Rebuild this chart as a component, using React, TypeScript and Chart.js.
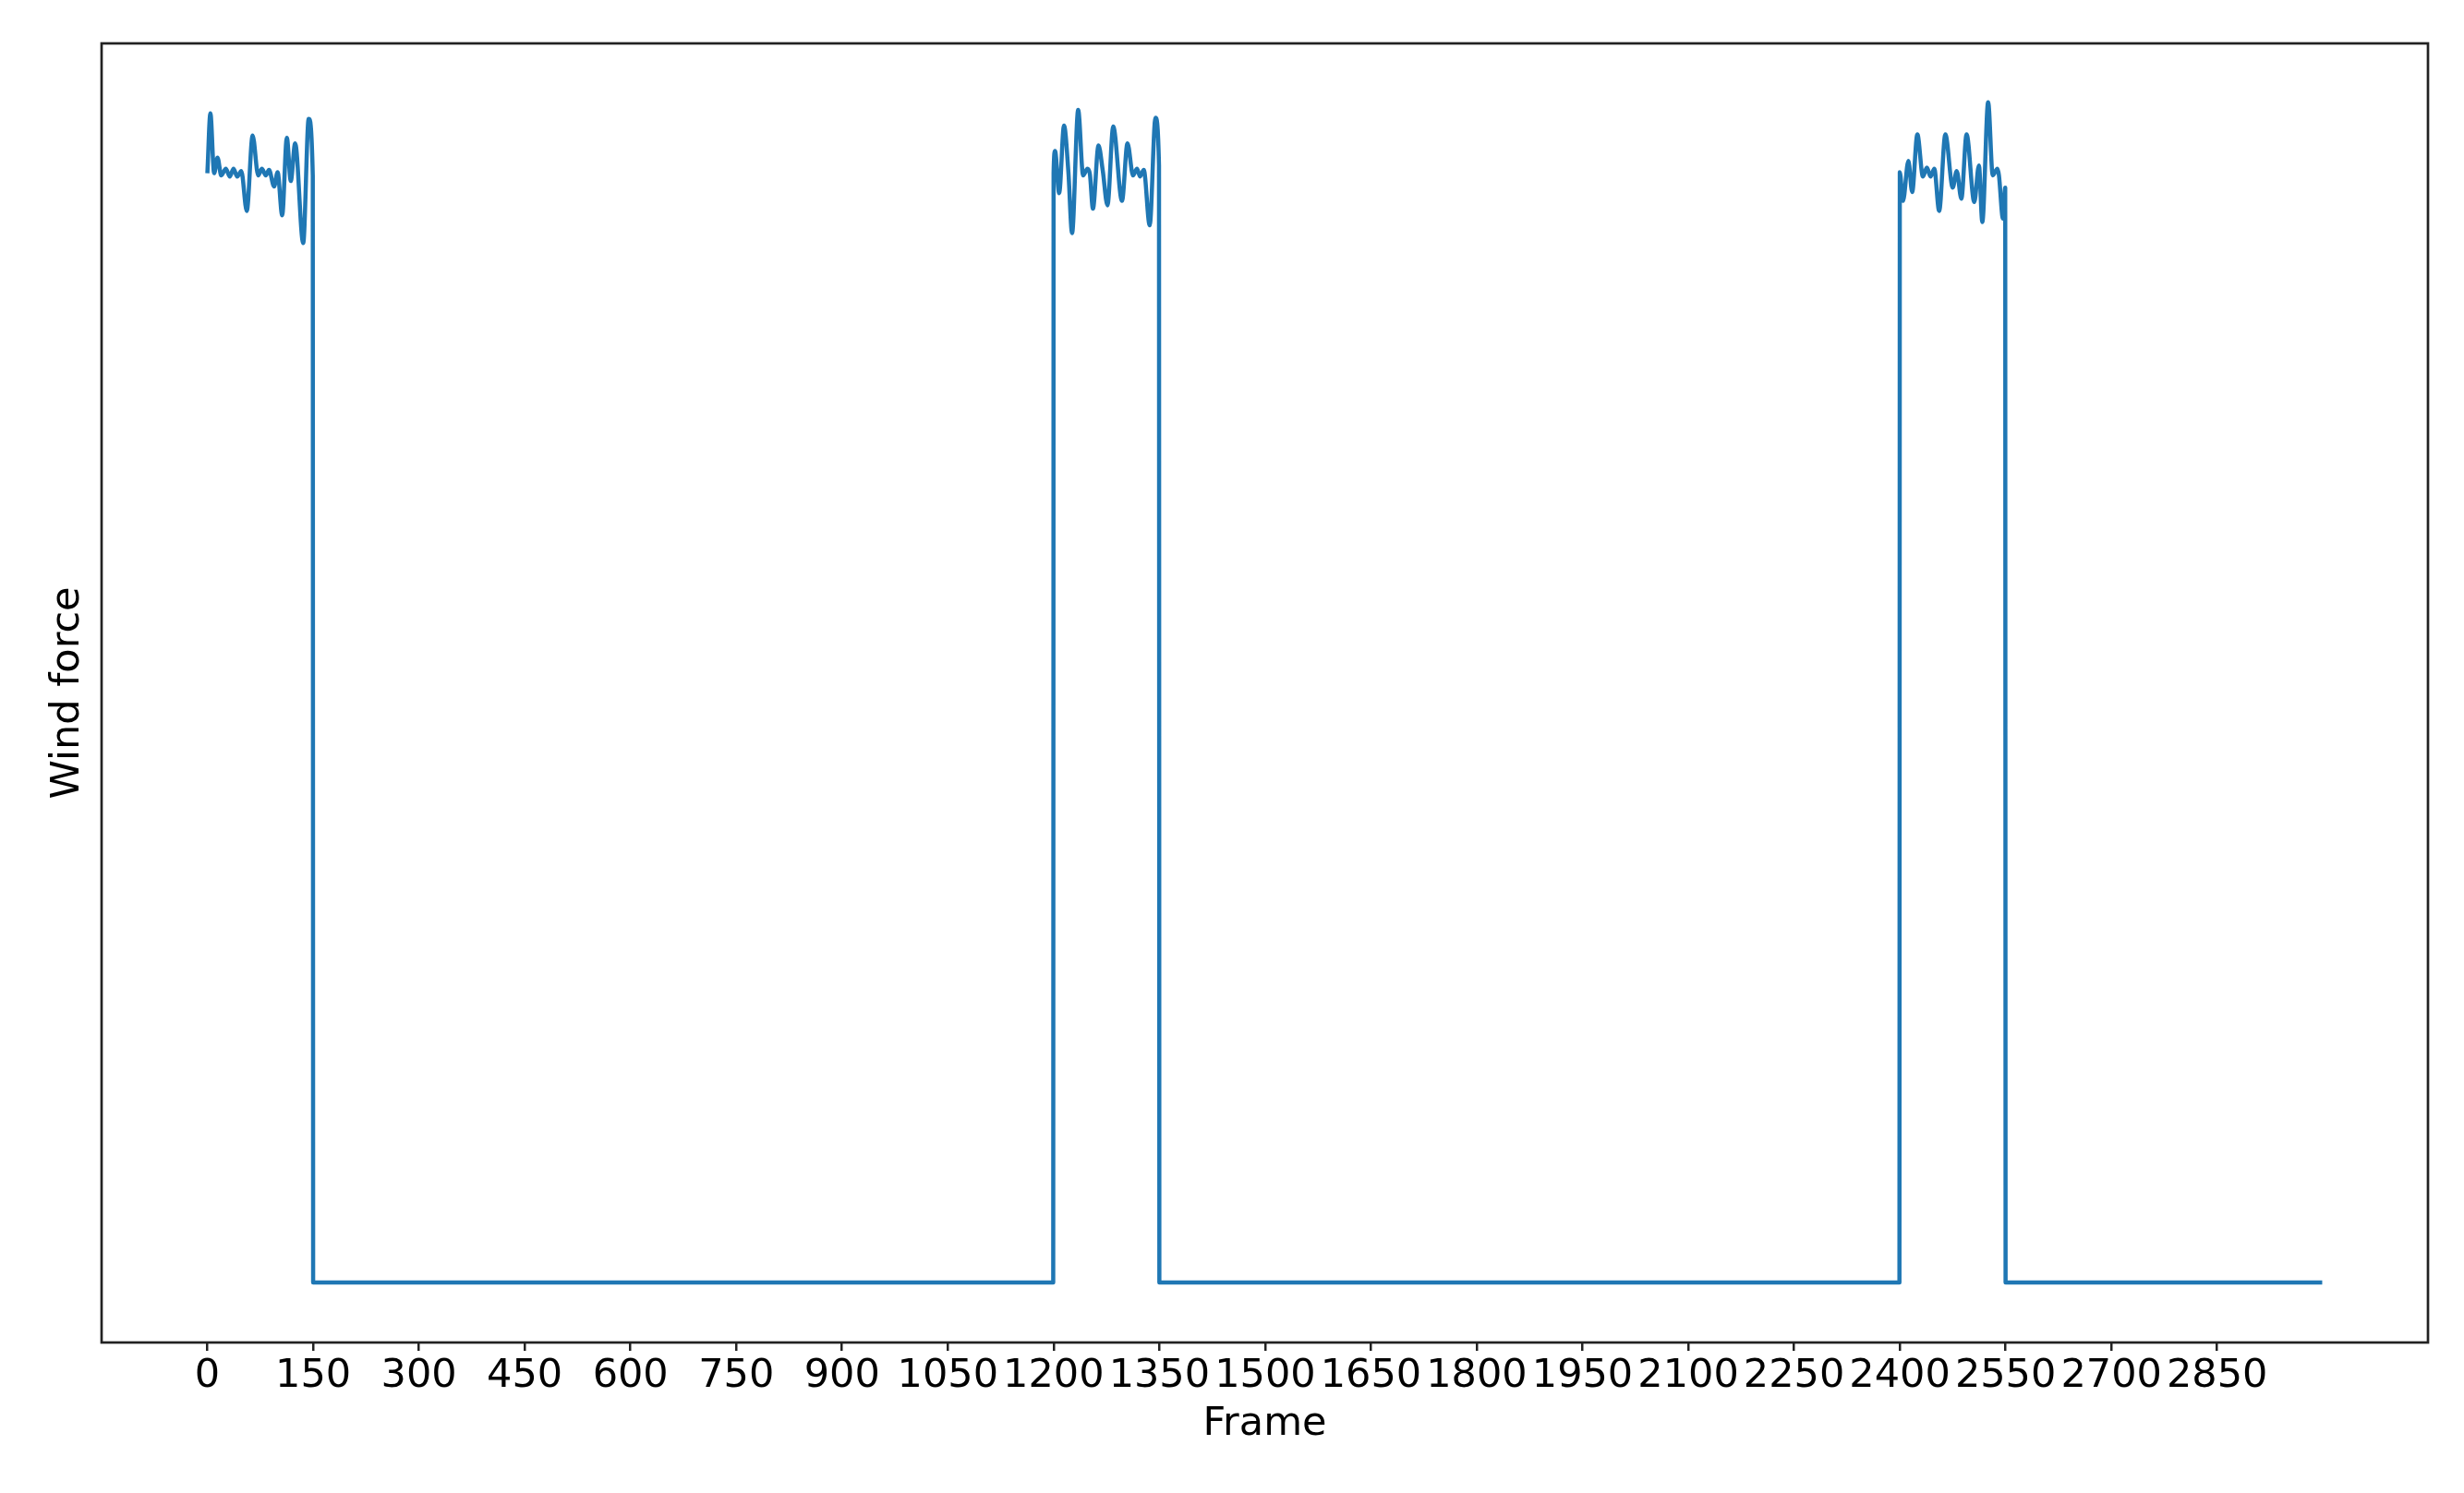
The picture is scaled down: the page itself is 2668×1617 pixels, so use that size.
import React, { useEffect, useRef } from "react";
import { Chart, registerables } from "chart.js";

Chart.register(...registerables);

// Frame numbers and wind force values
const frames: number[] = [
  0, 4.3, 9.6, 14.4, 19.7, 26.2, 31.8, 37.1, 42.3, 48.1, 55.9, 64.2, 72.1, 77.3, 82.9, 87.4, 94.7, 99.6,
  106.1, 112.7, 118.3, 124.5, 135.9, 143.7, 149.5, 150,
  1199.5, 1200, 1202.1, 1207.9, 1214.8, 1221, 1226.2, 1234.9, 1241.9, 1248, 1251.5, 1255.8, 1263.7,
  1269.8, 1276.4, 1284.6, 1297, 1304.8, 1312.7, 1318.3, 1322.6, 1327.9, 1336.3, 1344.5, 1349.5, 1350,
  2399.5, 2400, 2404.5, 2412.2, 2417.5, 2424.9, 2432.8, 2438.4, 2443.6, 2448.9, 2455.8, 2464.6,
  2475.1, 2480.7, 2487.3, 2494.7, 2505.6, 2512.2, 2517, 2525.3, 2531.8, 2538.4, 2540.6, 2546.3, 2549.5, 2550,
  2999,
];
const windForce: number[] = [
  1.0, 1.054, 1.0, 1.014, 0.998, 1.004, 0.997, 1.004, 0.997, 1.002, 0.966, 1.034, 0.998, 1.004, 0.998, 1.003, 0.988, 1.001,
  0.962, 1.032, 0.993, 1.027, 0.937, 1.049, 0.998, 0,
  0, 1.0, 1.02, 0.982, 1.043, 1.001, 0.946, 1.057, 0.998, 1.004, 0.999, 0.968, 1.025,
  1.002, 0.971, 1.042, 0.975, 1.027, 0.998, 1.004, 0.997, 1.003, 0.953, 1.05, 1.007, 0,
  0, 1.001, 0.975, 1.011, 0.983, 1.035, 0.997, 1.005, 0.997, 1.004, 0.966, 1.035,
  0.987, 1.002, 0.977, 1.035, 0.974, 1.007, 0.956, 1.064, 0.998, 1.004, 0.998, 0.959, 0.987, 0,
  0,
];
const xTickValues: number[] = [
  0, 150, 300, 450, 600, 750, 900, 1050, 1200, 1350, 1500, 1650, 1800, 1950, 2100, 2250, 2400, 2550, 2700, 2850,
];
const xTitle = "Frame";
const yTitle = "Wind force";

const W = 2668;
const H = 1617;
const FONT = "'DejaVu Sans', sans-serif";

const framePlugin = {
  id: "frameBox",
  afterDraw(chart: any) {
    const { ctx, chartArea } = chart;
    ctx.save();
    ctx.strokeStyle = "#222";
    ctx.lineWidth = 2.7;
    ctx.strokeRect(chartArea.left, chartArea.top, chartArea.right - chartArea.left, chartArea.bottom - chartArea.top);
    ctx.restore();
  },
};

export default function App() {
  const ref = useRef<HTMLCanvasElement | null>(null);
  useEffect(() => {
    document.body.style.margin = "0";
    const canvas = ref.current!;
    const chart = new Chart(canvas, {
      type: "line",
      data: {
        datasets: [
          {
            data: frames.map((f, i) => ({ x: f, y: windForce[i] })),
            borderColor: "#1f77b4",
            borderWidth: 4.5,
            pointRadius: 0,
            fill: false,
            cubicInterpolationMode: "monotone",
            borderJoinStyle: "round",
          },
        ],
      },
      options: {
        animation: false,
        responsive: false,
        devicePixelRatio: 1,
        layout: { padding: { top: 47, right: 39, bottom: 0, left: 0 } },
        plugins: { legend: { display: false }, tooltip: { enabled: false } },
        scales: {
          x: {
            type: "linear",
            min: -150,
            max: 3149,
            afterBuildTicks: (scale: any) => {
              scale.ticks = xTickValues.map((v) => ({ value: v }));
            },
            afterFit: (scale: any) => {
              scale.height = 163;
            },
            grid: {
              display: true,
              drawOnChartArea: false,
              drawTicks: true,
              tickLength: 9,
              color: "#222",
              lineWidth: 2.5,
            },
            border: { display: false },
            ticks: {
              autoSkip: false,
              maxRotation: 0,
              minRotation: 0,
              padding: 2,
              color: "#000",
              font: { family: FONT, size: 43 },
              callback: (v: any) => String(v),
            },
            title: {
              display: true,
              text: xTitle,
              color: "#000",
              font: { family: FONT, size: 43 },
              padding: { top: 0, bottom: 48 },
            },
          },
          y: {
            type: "linear",
            min: -0.054,
            max: 1.117,
            afterFit: (scale: any) => {
              scale.width = 110;
            },
            grid: { display: false },
            border: { display: false },
            ticks: { display: false },
            title: {
              display: true,
              text: yTitle,
              color: "#000",
              font: { family: FONT, size: 43 },
              padding: { top: 48, bottom: 0 },
            },
          },
        },
      },
      plugins: [framePlugin],
    });
    return () => chart.destroy();
  }, []);
  return (
    <div style={{ position: "absolute", left: 0, top: 0, width: W, height: H, background: "#fff" }}>
      <canvas ref={ref} width={W} height={H} style={{ width: W, height: H, display: "block" }} />
    </div>
  );
}
